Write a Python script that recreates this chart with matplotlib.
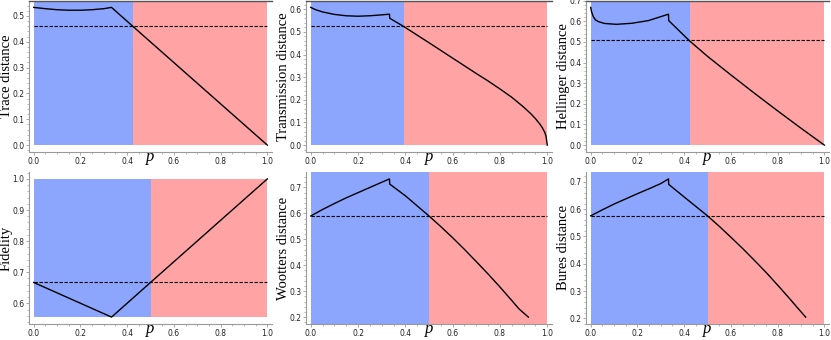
import matplotlib
matplotlib.use("Agg")
import matplotlib.pyplot as plt
from matplotlib.ticker import MultipleLocator, AutoMinorLocator

# ---- values ----
labels = ["Trace distance", "Transmission distance", "Hellinger distance",
          "Fidelity", "Wootters distance", "Bures distance"]

# crossing point where the blue region ends
p_cross = [0.424, 0.394, 0.423, 0.5, 0.5, 0.5]
# level of the dashed line
dash_level = [0.46, 0.525, 0.508, 0.667, 0.59, 0.575]

trace_p = [0.0, 0.05, 0.1, 0.15, 0.2, 0.25, 0.3, 0.333, 0.424, 1.0]
trace_v = [0.533, 0.528, 0.524, 0.522, 0.522, 0.524, 0.528, 0.533, 0.460, 0.0]

trans_p = [0.0, 0.02, 0.05, 0.1, 0.15, 0.2, 0.25, 0.3, 0.333, 0.334, 0.394,
           0.5, 0.6, 0.7, 0.75, 0.8, 0.85, 0.9, 0.93, 0.95, 0.97, 0.98, 0.99, 0.995, 1.0]
trans_v = [0.608, 0.598, 0.588, 0.577, 0.571, 0.569, 0.571, 0.575, 0.578, 0.560, 0.523,
           0.452, 0.384, 0.316, 0.283, 0.248, 0.211, 0.168, 0.139, 0.117, 0.091, 0.075,
           0.055, 0.038, 0.0]

hell_p = [0.0, 0.004, 0.011, 0.02, 0.033, 0.06, 0.11, 0.176, 0.247, 0.333, 0.334,
          0.423, 0.5, 0.6, 0.7, 0.8, 0.9, 1.0]
hell_v = [0.667, 0.645, 0.623, 0.607, 0.598, 0.589, 0.585, 0.590, 0.603, 0.634, 0.603,
          0.505, 0.430, 0.340, 0.252, 0.166, 0.082, 0.0]

fid_p = [0.0, 0.3333, 0.5, 1.0]
fid_v = [0.667, 0.5556, 0.667, 1.0]

woot_p = [0.0, 0.05, 0.1, 0.15, 0.2, 0.25, 0.3, 0.333, 0.334, 0.4, 0.5,
          0.55, 0.6, 0.65, 0.7, 0.75, 0.8, 0.85, 0.88, 0.92]
woot_v = [0.590, 0.615, 0.638, 0.660, 0.680, 0.700, 0.720, 0.733, 0.713, 0.668, 0.590,
          0.549, 0.506, 0.461, 0.414, 0.366, 0.316, 0.264, 0.232, 0.200]

bures_p = [0.0, 0.05, 0.1, 0.15, 0.2, 0.25, 0.3, 0.333, 0.334, 0.4, 0.5,
           0.55, 0.6, 0.65, 0.7, 0.75, 0.8, 0.85, 0.88, 0.92]
bures_v = [0.575, 0.597, 0.618, 0.637, 0.656, 0.674, 0.693, 0.710, 0.690, 0.644, 0.575,
           0.537, 0.497, 0.456, 0.413, 0.369, 0.322, 0.274, 0.244, 0.205]

curves = [(trace_p, trace_v), (trans_p, trans_v), (hell_p, hell_v),
          (fid_p, fid_v), (woot_p, woot_v), (bures_p, bures_v)]

# vertical extent of the shaded regions (None = edge of the axes)
fill_lo = [0.0, 0.0, 0.0, 0.5556, None, None]
fill_hi = [None, None, None, 1.0, None, None]

blue = "#8ca5fd"
red = "#ffa3a5"
axis_grey = "#9a9a9a"

# axes rectangles in pixels (left, top, right, bottom)
W, H = 831, 340
cols = [(29, 272), (306, 552), (586, 829)]
rows = [(0.5, 152), (172, 324)]

fig = plt.figure(figsize=(W / 100, H / 100), dpi=100)

for i in range(6):
    r, c = divmod(i, 3)
    x0, x1 = cols[c]
    y0, y1 = rows[r]
    ax = fig.add_axes([x0 / W, 1 - y1 / H, (x1 - x0) / W, (y1 - y0) / H])

    pp, vv = curves[i]
    ax.plot(pp, vv, color="black", lw=1.0, zorder=3)
    ax.plot([0, 1], [dash_level[i]] * 2, color="black", lw=0.8, ls=(0, (3, 1.5)), zorder=3)
    ax.margins(x=0.02, y=0.05)
    ax.autoscale_view()
    ylo, yhi = ax.get_ylim()

    lo = ylo if fill_lo[i] is None else fill_lo[i]
    hi = yhi if fill_hi[i] is None else fill_hi[i]
    ax.fill_between([0, p_cross[i]], lo, hi, color=blue, lw=0, zorder=1)
    ax.fill_between([p_cross[i], 1], lo, hi, color=red, lw=0, zorder=1)
    ax.set_ylim(ylo, yhi)
    ax.set_xlim(-0.02, 1.02)

    ax.spines["right"].set_visible(False)
    if r == 0:
        ax.spines["top"].set_color("#555555")
        ax.spines["top"].set_linewidth(1.0)
    else:
        ax.spines["top"].set_visible(False)
    for s in ["left", "bottom"]:
        ax.spines[s].set_color(axis_grey)
        ax.spines[s].set_linewidth(0.8)

    ax.xaxis.set_major_locator(MultipleLocator(0.2))
    ax.xaxis.set_minor_locator(AutoMinorLocator(4))
    ax.yaxis.set_major_locator(MultipleLocator(0.1))
    ax.yaxis.set_minor_locator(AutoMinorLocator(5))
    ax.tick_params(which="major", length=2.5, width=0.6, color=axis_grey,
                   labelsize=5.5, pad=1, labelcolor="#222222")
    ax.tick_params(which="minor", length=1.5, width=0.5, color=axis_grey)

    ax.set_ylabel(labels[i], family="Liberation Serif", fontsize=10.5)
    ax.yaxis.set_label_coords(-16 / (x1 - x0), 0.5)
    ax.set_xlabel("p", family="Liberation Serif", style="italic", fontsize=12, labelpad=-12)

fig.savefig("out.png", dpi=100)
